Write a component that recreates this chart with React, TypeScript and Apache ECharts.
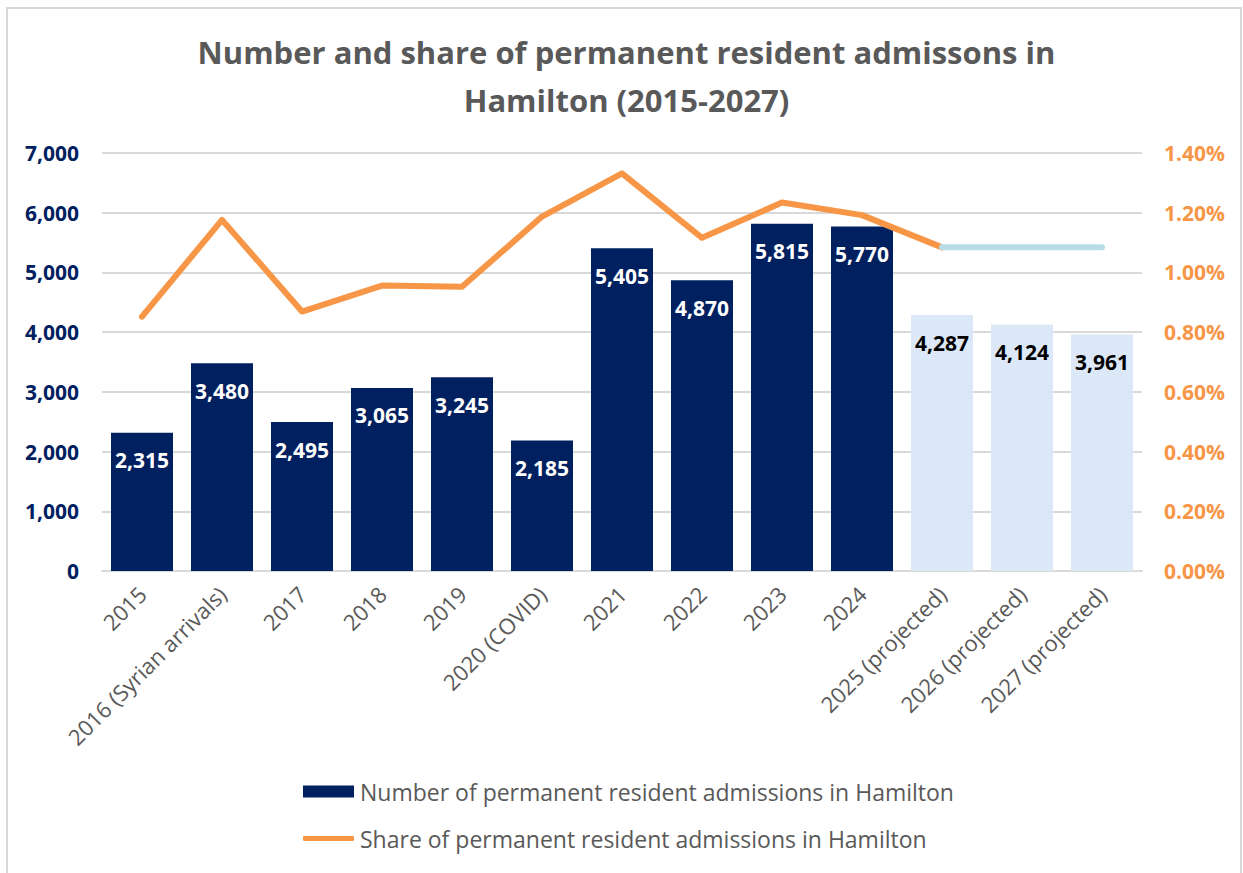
import React, { useEffect, useRef } from "react";
import * as echarts from "echarts";

const categories = [
  "2015",
  "2016 (Syrian arrivals)",
  "2017",
  "2018",
  "2019",
  "2020 (COVID)",
  "2021",
  "2022",
  "2023",
  "2024",
  "2025 (projected)",
  "2026 (projected)",
  "2027 (projected)",
];
const admissions = [2315, 3480, 2495, 3065, 3245, 2185, 5405, 4870, 5815, 5770, 4287, 4124, 3961];
const isProjected = [false, false, false, false, false, false, false, false, false, false, true, true, true];
const sharePct = [0.852, 1.176, 0.869, 0.956, 0.952, 1.187, 1.332, 1.116, 1.234, 1.192, 1.084, null, null];
const projectedSharePct = [null, null, null, null, null, null, null, null, null, null, 1.084, 1.084, 1.084];
const leftTicks = { min: 0, max: 7000, interval: 1000 };
const rightTicks = { min: 0, max: 1.4, interval: 0.2 };

const BAR_NAME = "Number of permanent resident admissions in Hamilton";
const LINE_NAME = "Share of permanent resident admissions in Hamilton";
const TITLE = "Number and share of permanent resident admissons in\nHamilton (2015-2027)";

const FONT = "'Open Sans', 'Noto Sans', sans-serif";
const NAVY = "#002060";
const ORANGE = "#F79646";
const PROJ_BAR = "#DCE8F7";
const PROJ_LINE = "#B7DEE8";
const GRAY_TEXT = "#595959";
const GRID = "#D9D9D9";

const fmt = (v: number) => v.toLocaleString("en-US");

export default function App() {
  const ref = useRef<HTMLDivElement>(null);
  useEffect(() => {
    if (!ref.current) return;
    const chart = echarts.init(ref.current, null, { renderer: "svg" });
    chart.setOption({
      animation: false,
      backgroundColor: "#ffffff",
      textStyle: { fontFamily: FONT },
      title: {
        text: TITLE,
        left: "50%",
        top: 23,
        textAlign: "center",
        textStyle: {
          fontFamily: FONT,
          fontSize: 31,
          fontWeight: "bold",
          color: GRAY_TEXT,
          lineHeight: 48,
        },
      },
      graphic: [
        {
          type: "rect",
          shape: { x: 7, y: 8, width: 1234, height: 900 },
          style: { fill: "none", stroke: GRID, lineWidth: 2 },
          silent: true,
        },
      ],
      legend: [
        {
          data: [{ name: BAR_NAME, icon: "rect" }],
          left: 303,
          top: 780,
          padding: 0,
          itemWidth: 51,
          itemHeight: 12,
          itemGap: 6,
          textStyle: { fontFamily: FONT, fontSize: 23, color: GRAY_TEXT, padding: [0, 0, 0, 1] },
          selectedMode: false,
        },
        {
          data: [{ name: LINE_NAME, icon: "roundRect" }],
          left: 303,
          top: 827,
          padding: 0,
          itemWidth: 51,
          itemHeight: 5,
          itemGap: 6,
          textStyle: { fontFamily: FONT, fontSize: 23, color: GRAY_TEXT, padding: [0, 0, 0, 1] },
          selectedMode: false,
        },
      ],
      grid: { left: 102, right: 101, top: 153, bottom: 302, containLabel: false },
      xAxis: {
        type: "category",
        data: categories,
        axisTick: { show: false },
        axisLine: { show: true, lineStyle: { color: GRID, width: 2 } },
        axisLabel: {
          interval: 0,
          rotate: 45,
          margin: 19,
          fontFamily: FONT,
          fontSize: 22,
          color: GRAY_TEXT,
        },
      },
      yAxis: [
        {
          type: "value",
          ...leftTicks,
          axisLine: { show: false },
          axisTick: { show: false },
          splitLine: { show: true, lineStyle: { color: GRID, width: 2 } },
          axisLabel: {
            margin: 23,
            fontFamily: FONT,
            fontSize: 21,
            fontWeight: "bold",
            color: NAVY,
            formatter: (v: number) => fmt(v),
          },
        },
        {
          type: "value",
          ...rightTicks,
          axisLine: { show: false },
          axisTick: { show: false },
          splitLine: { show: false },
          axisLabel: {
            margin: 22,
            fontFamily: FONT,
            fontSize: 21,
            fontWeight: "bold",
            color: ORANGE,
            formatter: (v: number) => v.toFixed(2) + "%",
          },
        },
      ],
      series: [
        {
          name: BAR_NAME,
          type: "bar",
          barWidth: 62,
          itemStyle: { color: NAVY },
          data: admissions.map((v, i) => ({
            value: v,
            itemStyle: { color: isProjected[i] ? PROJ_BAR : NAVY },
            label: { color: isProjected[i] ? "#000000" : "#ffffff" },
          })),
          label: {
            show: true,
            position: "insideTop",
            distance: 17,
            fontFamily: FONT,
            fontSize: 21,
            fontWeight: "bold",
            formatter: (p: any) => fmt(p.value),
          },
          z: 2,
        },
        {
          name: LINE_NAME,
          type: "line",
          yAxisIndex: 1,
          data: sharePct,
          symbol: "none",
          showSymbol: false,
          connectNulls: false,
          itemStyle: { color: ORANGE },
          lineStyle: { color: ORANGE, width: 6, cap: "round", join: "round" },
          z: 3,
        },
        {
          name: "Projected share",
          type: "line",
          yAxisIndex: 1,
          data: projectedSharePct,
          symbol: "none",
          showSymbol: false,
          itemStyle: { color: PROJ_LINE },
          lineStyle: { color: PROJ_LINE, width: 6, cap: "round", join: "round" },
          z: 3,
        },
      ],
    });
    return () => chart.dispose();
  }, []);
  return (
    <div
      ref={ref}
      style={{ position: "absolute", left: 0, top: 0, width: 1243, height: 873, background: "#fff" }}
    />
  );
}
